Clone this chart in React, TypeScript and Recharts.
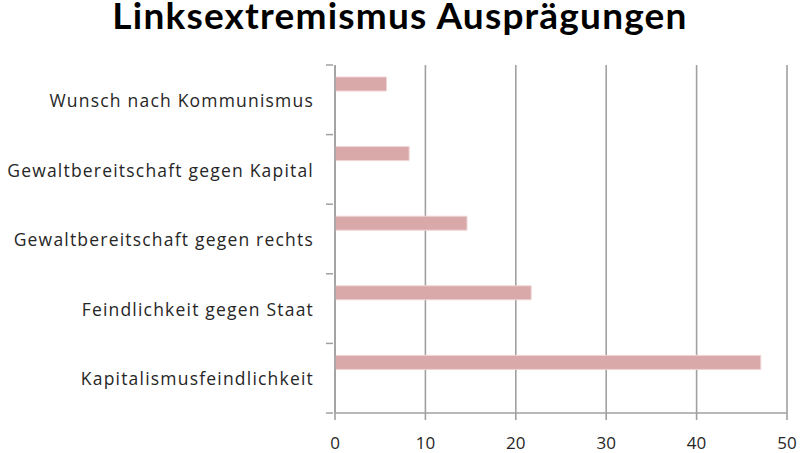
import React from "react";
import { BarChart, Bar, XAxis, YAxis, CartesianGrid } from "recharts";

const categories = [
  "Wunsch nach Kommunismus",
  "Gewaltbereitschaft gegen Kapital",
  "Gewaltbereitschaft gegen rechts",
  "Feindlichkeit gegen Staat",
  "Kapitalismusfeindlichkeit",
];
const values = [5.7, 8.2, 14.6, 21.7, 47.1];
const xTicks = [0, 10, 20, 30, 40, 50];
const title = "Linksextremismus Ausprägungen";

const data = categories.map((c, i) => ({ name: c, value: values[i], empty: null }));

const GRID = "#a0a0a0";
const TEXT = "#262626";
const LABEL_FONT = "'Open Sans', sans-serif";

const YTick = (props: any) => {
  const { x, y, payload, index } = props;
  const half = payload && payload.offset ? payload.offset : 34.8;
  const ax = x + 7;
  return (
    <g>
      <line x1={ax - 7} x2={ax} y1={y - half} y2={y - half} stroke={GRID} strokeWidth={1.5} />
      {index === categories.length - 1 && (
        <line x1={ax - 7} x2={ax} y1={y + half} y2={y + half} stroke={GRID} strokeWidth={1.5} />
      )}
      <text
        x={ax - 19}
        y={y + 1}
        dy="0.35em"
        textAnchor="end"
        fill={TEXT}
        fontSize={17.5}
        letterSpacing={1.2}
        fontFamily={LABEL_FONT}
      >
        {payload.value}
      </text>
    </g>
  );
};

export default function App() {
  return (
    <div style={{ position: "absolute", left: 0, top: 0, width: 800, height: 453, background: "#fff", overflow: "hidden" }}>
      <div
        style={{
          position: "absolute",
          left: 0,
          top: 0,
          width: 800,
          textAlign: "center",
          fontFamily: "Lato, sans-serif",
          fontWeight: 700,
          fontSize: 37,
          letterSpacing: 1.2,
          lineHeight: "30px",
          color: "#000",
        }}
      >
        {title}
      </div>
      <BarChart
        width={800}
        height={453}
        layout="vertical"
        data={data}
        margin={{ top: 65, right: 13, bottom: 10, left: 5 }}
        barSize={14}
        barGap={18}
      >
        <CartesianGrid horizontal={false} vertical={true} stroke={GRID} strokeWidth={1.6} />
        <XAxis
          type="number"
          domain={[0, 50]}
          ticks={xTicks}
          interval={0}
          height={30}
          tickSize={7}
          tickMargin={17}
          axisLine={{ stroke: GRID, strokeWidth: 1.6 }}
          tickLine={{ stroke: GRID, strokeWidth: 1.6 }}
          tick={{ fill: TEXT, fontSize: 17, fontFamily: LABEL_FONT }}
        />
        <YAxis
          type="category"
          dataKey="name"
          width={330}
          interval={0}
          tickLine={false}
          tickSize={7}
          axisLine={{ stroke: GRID, strokeWidth: 1.6 }}
          tick={<YTick />}
        />
        <Bar dataKey="value" fill="#d9a8a8" stroke="#f0d4d4" strokeWidth={1} isAnimationActive={false} />
        <Bar dataKey="empty" fill="#d9a8a8" isAnimationActive={false} />
      </BarChart>
    </div>
  );
}
